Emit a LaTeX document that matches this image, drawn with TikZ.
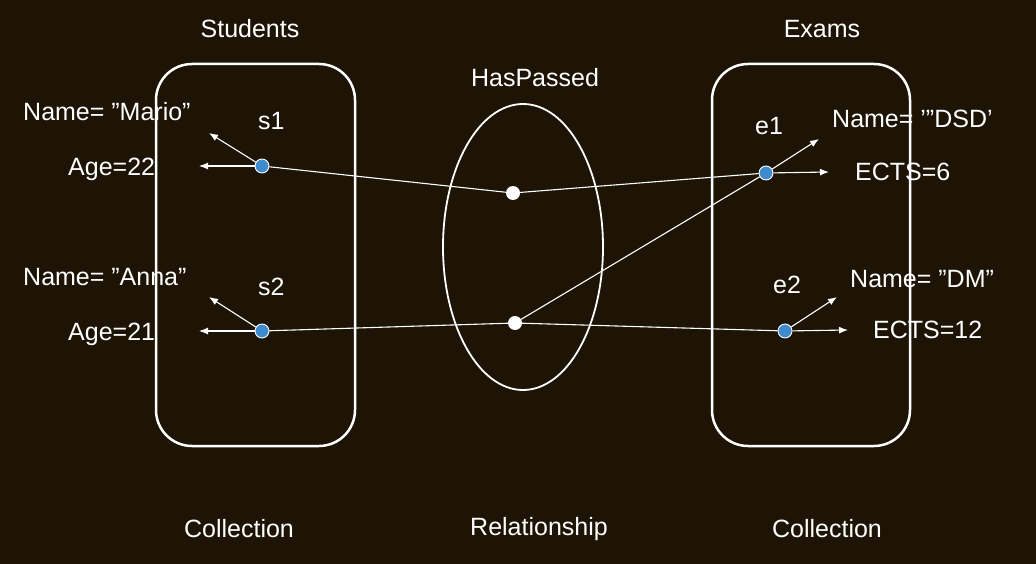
\documentclass[tikz,border=0pt]{standalone}
\usepackage{fontspec}
\setmainfont{Liberation Sans}
\usetikzlibrary{arrows.meta}
\definecolor{bg}{RGB}{30,20,5}
\definecolor{dotblue}{RGB}{62,140,205}
\begin{document}
\begin{tikzpicture}[x=1pt,y=-1pt,
  every node/.style={text=white,font=\fontsize{25}{30}\selectfont,inner sep=0pt},
  lbl/.style={anchor=base west},
  ttl/.style={anchor=base},
  coll/.style={draw=white,line width=2.5pt,rounded corners=36pt},
  rel/.style={draw=white,line width=1.8pt},
  bdot/.style={circle,fill=dotblue,draw=white,line width=0.9pt,minimum size=14pt},
  wdot/.style={circle,fill=white,minimum size=14pt},
  conn/.style={draw=white,line width=1.1pt},
  arr/.style={draw=white,line width=1.1pt,-{Latex[length=9pt,width=7pt]}}]
\fill[bg] (0,0) rectangle (1036,564);
\useasboundingbox (0,0) rectangle (1036,564);
% titles
\node[ttl] (tStud) at (250,38) {Students};
\node[ttl] (tExam) at (822,38) {Exams};
\node[ttl] (tHas) at (535,87) {HasPassed};
\node[ttl] (cL) at (239,537) {Collection};
\node[ttl] (cM) at (539,535) {Relationship};
\node[ttl] (cR) at (827,537) {Collection};
% attribute labels
\node[lbl] (nMario) at (23,121) {Name= "Mario"};
\node[lbl] (aMario) at (68,176) {Age=22};
\node[lbl] (nAnna) at (23,285) {Name= "Anna"};
\node[lbl] (aAnna) at (68,340) {Age=21};
\node[lbl] (ls1) at (258,130) {s1};
\node[lbl] (ls2) at (258,295) {s2};
\node[lbl] (le1) at (755,135) {e1};
\node[lbl] (le2) at (773,293) {e2};
\node[lbl] (nDSD) at (832,128) {Name= '"DSD'};
\node[lbl] (eDSD) at (855,181) {ECTS=6};
\node[lbl] (nDM) at (850,287) {Name= "DM"};
\node[lbl] (eDM) at (873,338) {ECTS=12};
% collections and relationship
\draw[coll] (156,64) rectangle (355,446);
\draw[coll] (712,64) rectangle (910,446);
\draw[rel] (523,247) ellipse [x radius=80pt,y radius=143pt];
% dots
\node[bdot] (s1) at (262,166) {};
\node[bdot] (s2) at (262,331) {};
\node[bdot] (e1) at (766,173) {};
\node[bdot] (e2) at (785,331) {};
\node[wdot] (r1) at (513,193) {};
\node[wdot] (r2) at (515,323) {};
% arrow tips
\coordinate (s1n) at (209,133);
\coordinate (s1a) at (199,166);
\coordinate (s2n) at (209,297);
\coordinate (s2a) at (199,331);
\coordinate (e1n) at (819,139);
\coordinate (e1a) at (829,172);
\coordinate (e2n) at (837,297);
\coordinate (e2a) at (848,330);
% connectors
\draw[conn] (s1) -- (r1);
\draw[conn] (r1) -- (e1);
\draw[conn] (s2) -- (r2);
\draw[conn] (r2) -- (e2);
\draw[conn] (r2) -- (e1);
\draw[arr] (s1) -- (s1n);
\draw[arr] (s1) -- (s1a);
\draw[arr] (s2) -- (s2n);
\draw[arr] (s2) -- (s2a);
\draw[arr] (e1) -- (e1n);
\draw[arr] (e1) -- (e1a);
\draw[arr] (e2) -- (e2n);
\draw[arr] (e2) -- (e2a);
\end{tikzpicture}
\end{document}
